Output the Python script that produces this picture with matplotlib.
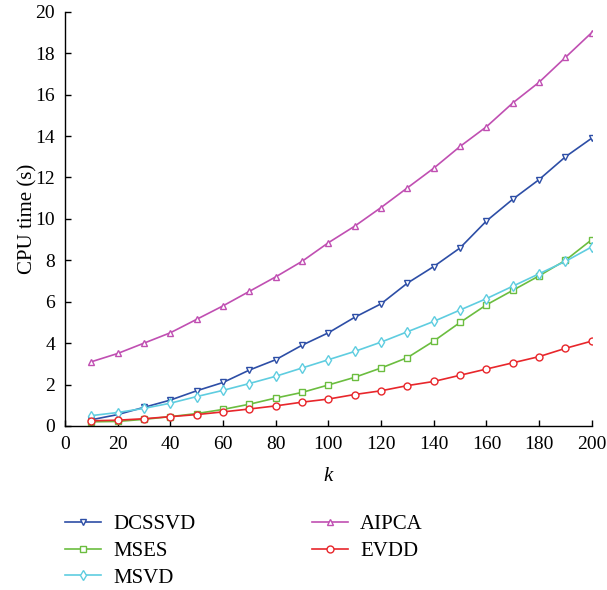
import matplotlib
matplotlib.use("Agg")
import matplotlib.pyplot as plt

plt.rcParams['font.family'] = ['Liberation Serif', 'DejaVu Serif']

k = [10, 20, 30, 40, 50, 60, 70, 80, 90, 100,
     110, 120, 130, 140, 150, 160, 170, 180, 190, 200]

dcssvd = [0.3, 0.55, 0.9, 1.25, 1.7, 2.1, 2.7, 3.2, 3.9, 4.5,
          5.25, 5.9, 6.9, 7.7, 8.6, 9.9, 10.95, 11.9, 13.0, 13.9]
mses = [0.2, 0.22, 0.32, 0.45, 0.6, 0.8, 1.05, 1.35, 1.62, 1.98,
        2.35, 2.8, 3.3, 4.1, 5.0, 5.85, 6.55, 7.25, 8.0, 9.0]
msvd = [0.5, 0.65, 0.85, 1.1, 1.42, 1.72, 2.05, 2.4, 2.8, 3.2,
        3.6, 4.05, 4.55, 5.05, 5.6, 6.15, 6.75, 7.35, 7.95, 8.65]
aipca = [3.1, 3.5, 4.0, 4.5, 5.15, 5.8, 6.5, 7.2, 7.95, 8.85,
         9.65, 10.55, 11.5, 12.45, 13.5, 14.45, 15.6, 16.6, 17.8, 19.0]
evdd = [0.25, 0.28, 0.35, 0.45, 0.55, 0.68, 0.82, 0.97, 1.15, 1.3,
        1.52, 1.7, 1.95, 2.15, 2.45, 2.75, 3.05, 3.35, 3.75, 4.1]

series = [
    ("DCSSVD", dcssvd, "#2d4ea6", "v"),
    ("MSES", mses, "#6bbd3f", "s"),
    ("MSVD", msvd, "#5fcde0", "d"),
    ("AIPCA", aipca, "#c04fb2", "^"),
    ("EVDD", evdd, "#e8262b", "o"),
]

fig = plt.figure(figsize=(6.07, 5.9), dpi=100)
ax = fig.add_axes([0.107, 0.278, 0.868, 0.702])

handles = []
for name, vals, color, marker in series:
    h, = ax.plot(k, vals, color=color, marker=marker, markersize=5,
                 markerfacecolor='white', markeredgecolor=color,
                 markeredgewidth=1.0, linewidth=1.2, label=name)
    handles.append(h)

ax.set_xlim(0, 200)
ax.set_ylim(0, 20)
ax.set_xticks(range(0, 201, 20))
ax.set_yticks(range(0, 21, 2))
ax.tick_params(labelsize=14, direction='in', length=4, width=1, pad=7)
for side in ['top', 'right']:
    ax.spines[side].set_visible(False)
for side in ['left', 'bottom']:
    ax.spines[side].set_linewidth(1.0)

ax.set_xlabel('k', fontsize=15, fontstyle='italic', labelpad=10)
ax.set_ylabel('CPU time (s)', fontsize=15)
ax.yaxis.set_label_coords(-0.053, 0.5)

fig.legend(handles=handles, ncol=2, loc='upper left',
           bbox_to_anchor=(0.077, 0.16), frameon=False, fontsize=15,
           handlelength=1.7, columnspacing=5.6, labelspacing=0.35,
           handletextpad=0.6)

fig.savefig('out.png', dpi=100)
